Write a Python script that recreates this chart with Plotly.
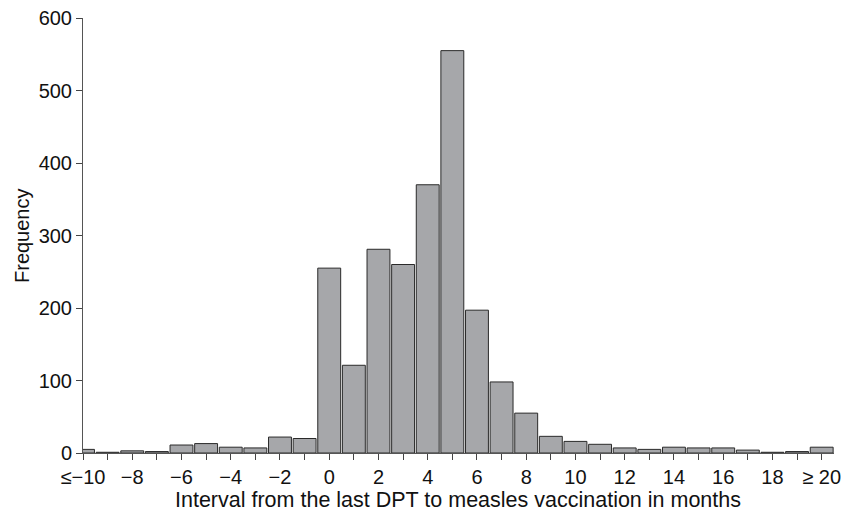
import plotly.graph_objects as go

months = list(range(-10, 21))
freq = [5, 1, 3, 2, 11, 13, 8, 7, 22, 20,
        255, 121, 281, 260, 370, 555, 197, 98, 55, 23,
        16, 12, 7, 5, 8, 7, 7, 4, 1, 2, 8]
tick_vals = [-10, -8, -6, -4, -2, 0, 2, 4, 6, 8, 10, 12, 14, 16, 18, 20]
tick_text = ["≤−10", "−8", "−6", "−4", "−2", "0", "2", "4", "6", "8",
             "10", "12", "14", "16", "18", "≥ 20"]

fig = go.Figure(go.Bar(
    x=months, y=freq, width=0.93,
    marker=dict(color="#a6a7aa", line=dict(color="#2a2a2a", width=1)),
))

font = "Liberation Sans, Arial, Helvetica, sans-serif"
OFF = 8  # page body offset
W, H = 856, 513
L, R, T, B = 83 - OFF, W - (834 - OFF), 18 - OFF, H - (453 - OFF)
PW, PH = W - L - R, H - T - B


def px_to_paper(px, py):
    return ((px - OFF) - L) / PW, (H - B - (py - OFF)) / PH


xt_x, xt_y = px_to_paper(458, 500)
yt_x, yt_y = px_to_paper(22, 235)

fig.update_layout(
    width=W, height=H,
    margin=dict(l=L, r=R, t=T, b=B, autoexpand=False),
    plot_bgcolor="white", paper_bgcolor="white",
    showlegend=False,
    font=dict(family=font, color="#111", size=20),
    xaxis=dict(
        range=[-10, 20.5], tickmode="array", tickvals=tick_vals, ticktext=tick_text,
        ticks="outside", ticklen=6, tickcolor="#444", showgrid=False, zeroline=False,
        showline=True, linecolor="#555", linewidth=1, automargin=False,
        ticklabeloverflow="allow",
        minor=dict(ticks="outside", dtick=1, tick0=0, ticklen=6, tickcolor="#444", showgrid=False),
        tickfont=dict(size=20),
    ),
    yaxis=dict(
        range=[0, 600], tickmode="linear", tick0=0, dtick=100,
        ticks="outside", ticklen=6, tickcolor="#444", showgrid=False, zeroline=False,
        showline=True, linecolor="#555", linewidth=1, automargin=False,
        ticklabeloverflow="allow",
        tickfont=dict(size=20),
    ),
    annotations=[
        dict(text="Interval from the last DPT to measles vaccination in months",
             xref="paper", yref="paper", x=xt_x, y=xt_y,
             xanchor="center", yanchor="middle", showarrow=False, font=dict(size=21.5)),
        dict(text="Frequency", textangle=-90,
             xref="paper", yref="paper", x=yt_x, y=yt_y,
             xanchor="center", yanchor="middle", showarrow=False, font=dict(size=20)),
    ],
)

fig.write_html("out.html")
